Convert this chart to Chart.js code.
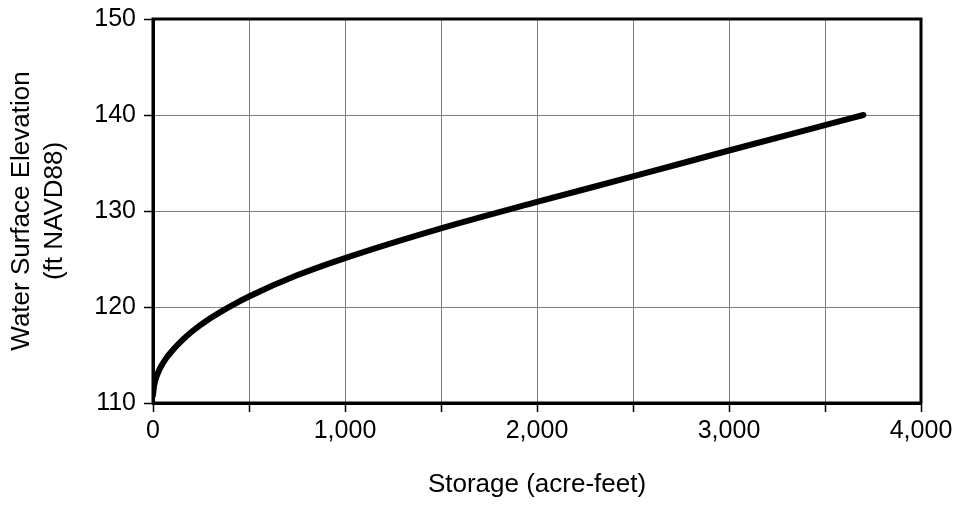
<!DOCTYPE html>
<html>
<head>
<meta charset="utf-8">
<script src="https://cdn.jsdelivr.net/npm/chart.js@4/dist/chart.umd.min.js"></script>
<style>
  html, body { margin:0; padding:0; background:#fff; }
  #wrap { width:959px; height:508px; }
</style>
</head>
<body>
<div id="wrap"><canvas id="c" width="959" height="508"></canvas></div>
<script>
// storage-elevation curve
const storage   = [0, 5, 10, 20, 40, 70, 100, 150, 200, 300, 400, 500, 750, 1000, 1500, 2000, 2500, 3000, 3500, 3700];
const elevation = [110.8, 111.7, 112.2, 112.85, 113.75, 114.7, 115.45, 116.5, 117.4, 118.85, 120.05, 121.1, 123.3, 125.1, 128.2, 130.95, 133.6, 136.3, 138.95, 140.0];
const xTicks = [0, 1000, 2000, 3000, 4000];
const yTicks = [110, 120, 130, 140, 150];

const FONT = '"Liberation Sans", Arial, sans-serif';

// thick frame round the plot area
const frame = {
  id: 'frame',
  afterDatasetsDraw(chart) {
    const a = chart.chartArea, ctx = chart.ctx;
    ctx.save();
    ctx.strokeStyle = '#000';
    ctx.lineWidth = 3;
    ctx.strokeRect(a.left, a.top, a.right - a.left, a.bottom - a.top);
    ctx.restore();
  }
};

new Chart(document.getElementById('c').getContext('2d'), {
  type: 'line',
  data: {
    datasets: [{
      data: storage.map((s, i) => ({ x: s, y: elevation[i] })),
      borderColor: '#000',
      borderWidth: 6,
      borderCapStyle: 'round',
      borderJoinStyle: 'round',
      pointRadius: 0,
      cubicInterpolationMode: 'monotone',
      fill: false
    }]
  },
  options: {
    responsive: false,
    animation: false,
    layout: { padding: { top: 19, right: 38, left: 0, bottom: 0 } },
    plugins: { legend: { display: false }, tooltip: { enabled: false } },
    scales: {
      x: {
        type: 'linear', min: 0, max: 4000,
        afterFit: s => { s.height = 105; },
        ticks: {
          stepSize: 500, color: '#000', padding: 4, maxRotation: 0,
          font: { family: FONT, size: 25 },
          callback: v => xTicks.includes(v) ? v.toLocaleString('en-US') : ''
        },
        grid: { color: '#808080', lineWidth: 1, tickLength: 9, tickColor: '#000', tickWidth: 1.5 },
        border: { color: '#000', width: 3 },
        title: {
          display: true, text: 'Storage (acre-feet)', color: '#000',
          font: { family: FONT, size: 26, lineHeight: 1.2 },
          padding: { top: 0, bottom: 8 }
        }
      },
      y: {
        min: 110, max: 150,
        afterFit: s => { s.width = 153; s.paddingTop = 0; s.paddingBottom = 0; },
        ticks: {
          stepSize: 10, color: '#000', padding: 8,
          font: { family: FONT, size: 25 },
          callback: v => yTicks.includes(v) ? String(v) : ''
        },
        grid: { color: '#808080', lineWidth: 1, tickLength: 9, tickColor: '#000', tickWidth: 1.5 },
        border: { color: '#000', width: 3 },
        title: {
          display: true, text: ['Water Surface Elevation', '(ft NAVD88)'], color: '#000',
          font: { family: FONT, size: 26, lineHeight: 1.25 },
          padding: { top: 6, bottom: 0 }
        }
      }
    }
  },
  plugins: [frame]
});
</script>
</body>
</html>
